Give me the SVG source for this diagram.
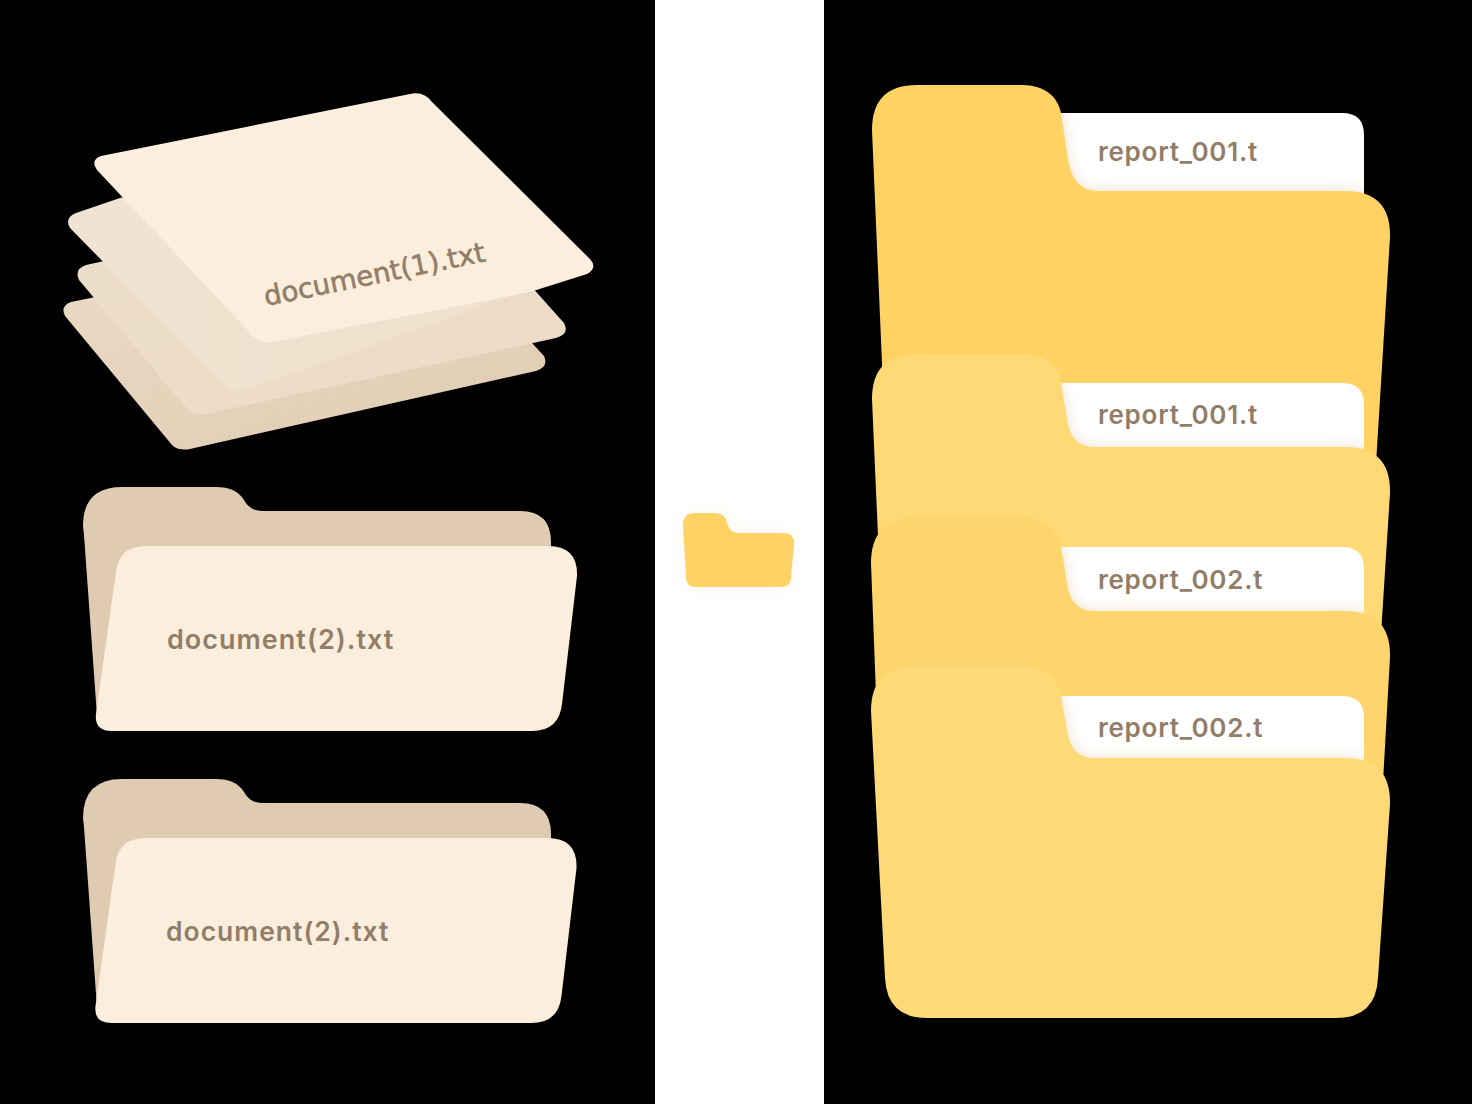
<svg xmlns="http://www.w3.org/2000/svg" width="1472" height="1104" viewBox="0 0 1472 1104">
<style>
.doc{font-family:"Inter","Liberation Sans",sans-serif;font-weight:600;font-size:27px;letter-spacing:1px;fill:#927e68}
.rep{font-family:"Inter","Liberation Sans",sans-serif;font-weight:600;font-size:26px;letter-spacing:.75px;fill:#927e68}
.paper{fill:#fff}
.cream{fill:#fbeedd}
.back{fill:#dfcbb2}
</style>
<defs>
<filter id="soft" x="-10%" y="-10%" width="120%" height="120%"><feGaussianBlur stdDeviation="7"/></filter>
<filter id="iconGlow" x="-30%" y="-30%" width="160%" height="170%"><feGaussianBlur stdDeviation="9"/></filter>
<linearGradient id="s4" x1="0" y1="0" x2="1" y2="1"><stop offset="0" stop-color="#ead9c4"/><stop offset="1" stop-color="#dfcbb2"/></linearGradient>
<linearGradient id="s3" x1="0" y1="0" x2="1" y2="1"><stop offset="0" stop-color="#eddecb"/><stop offset="1" stop-color="#ebdbc6"/></linearGradient>
<linearGradient id="s2" x1="0" y1="0" x2="1" y2="0"><stop offset="0" stop-color="#f1e3d1"/><stop offset="1" stop-color="#efe0cd"/></linearGradient>
<path id="fold-back" d="M83 526Q83 487 122 487H216Q236 487 244 500Q250 511 262 511H520Q551 511 551 542V560L130 600 97 716 84 535Z"/>
<path id="fold-front" d="M116 572Q119 546 146 546H548Q578 546 577 576L562 704Q559 731 532 731H112Q94 731 96 714Z"/>
<path id="y1" d="M872 130Q872 85 917 85H1022C1045 85 1058 97 1061 113L1068 160Q1073 191 1098 191H1345Q1391 191 1390 237L1375 480H887Z"/>
<path id="y2" d="M872 399Q872 354 917 354H1022C1045 354 1058 366 1061 383L1068 425Q1073 447 1095 447H1345Q1391 447 1390 493L1380 650H883Z"/>
<path id="y3" d="M871 563Q871 518 916 518H1022C1045 518 1058 530 1061 547L1068 589Q1073 611 1095 611H1345Q1391 611 1390 657L1382 800H880Z"/>
<path id="y4" d="M871 711Q871 666 916 666H1022C1045 666 1058 678 1061 696L1068 736Q1073 758 1095 758H1345Q1391 758 1390 804L1378 978Q1376 1018 1336 1018H927Q887 1018 885 978Z"/>
<clipPath id="c1"><path d="M1050 113H1342Q1364 113 1364 135V196H1050Z"/></clipPath>
<clipPath id="c2"><path d="M1050 383H1342Q1364 383 1364 405V452H1050Z"/></clipPath>
<clipPath id="c3"><path d="M1050 547H1342Q1364 547 1364 569V616H1050Z"/></clipPath>
<clipPath id="c4"><path d="M1050 696H1342Q1364 696 1364 718V763H1050Z"/></clipPath>
</defs>
<rect id="bg" width="1472" height="1104" fill="#000"/>
<rect id="center-panel" x="655" width="169" height="1104" fill="#fff"/>
<g id="sheet-stack">
<path id="sheet-4" fill="url(#s4)" d="M71 302Q60 306 65 316L172 445Q178 451 190 449L536 371Q549 367 544 356L520 330 200 290 110 294Z"/>
<path id="sheet-3" fill="url(#s3)" d="M86 265Q74 269 79 280L184 405Q192 417 206 414L556 338Q570 334 564 323L530 285 200 240Z"/>
<path id="sheet-2" fill="url(#s2)" d="M76 213Q64 218 70 228L224 385Q232 393 246 389L440 322 575 270 300 150 120 198Z"/>
<path id="sheet-1" class="cream" d="M101 156Q90 160 97 170L252 335Q259 344 272 342L530 292 587 274Q598 268 590 259L432 102Q424 91 410 94Z"/>
<text transform="translate(266 306) rotate(-11.5)" style="font-family:'DejaVu Sans','Liberation Sans',sans-serif;font-size:27.6px;fill:#927e68;stroke:#927e68;stroke-width:.6">document(1).txt</text>
</g>
<g id="folder-doc-a">
<use href="#fold-back" class="back"/>
<use href="#fold-front" class="cream"/>
<text class="doc" x="167" y="649">document(2).txt</text>
</g>
<g id="folder-doc-b">
<use href="#fold-back" class="back" y="292"/>
<use href="#fold-front" class="cream" y="292" x="-0.5"/>
<text class="doc" x="166" y="941" style="font-size:26.5px">document(2).txt</text>
</g>
<g id="folder-icon">
<path d="M683 525Q683 513 695 513H715Q725 513 727 523Q729 533 740 533H784Q794 533 794 543L791 577Q791 587 781 587H696Q686 587 686 577Z" fill="#f7e8c4" opacity=".3" filter="url(#iconGlow)"/>
<path d="M683 525Q683 513 695 513H715Q725 513 727 523Q729 533 740 533H784Q794 533 794 543L791 577Q791 587 781 587H696Q686 587 686 577Z" fill="#fed264"/>
</g>
<g id="folder-report-1">
<path class="paper" d="M1050 113H1342Q1364 113 1364 135V196H1050Z"/>
<g clip-path="url(#c1)"><use href="#y1" fill="#c89a50" opacity=".3" filter="url(#soft)"/></g>
<text class="rep" x="1098" y="161">report_001.t</text>
<use href="#y1" fill="#ffd264"/>
</g>
<g id="folder-report-2">
<path class="paper" d="M1050 383H1342Q1364 383 1364 405V452H1050Z"/>
<g clip-path="url(#c2)"><use href="#y2" fill="#c89a50" opacity=".3" filter="url(#soft)"/></g>
<text class="rep" x="1098" y="424">report_001.t</text>
<use href="#y2" fill="#fed975"/>
</g>
<g id="folder-report-3">
<path class="paper" d="M1050 547H1342Q1364 547 1364 569V616H1050Z"/>
<g clip-path="url(#c3)"><use href="#y3" fill="#c89a50" opacity=".3" filter="url(#soft)"/></g>
<text class="rep" x="1098" y="589">report_002.t</text>
<use href="#y3" fill="#fed56d"/>
</g>
<g id="folder-report-4">
<path class="paper" d="M1050 696H1342Q1364 696 1364 718V763H1050Z"/>
<g clip-path="url(#c4)"><use href="#y4" fill="#c89a50" opacity=".3" filter="url(#soft)"/></g>
<text class="rep" x="1098" y="737">report_002.t</text>
<use href="#y4" fill="#fed977"/>
</g>
</svg>
